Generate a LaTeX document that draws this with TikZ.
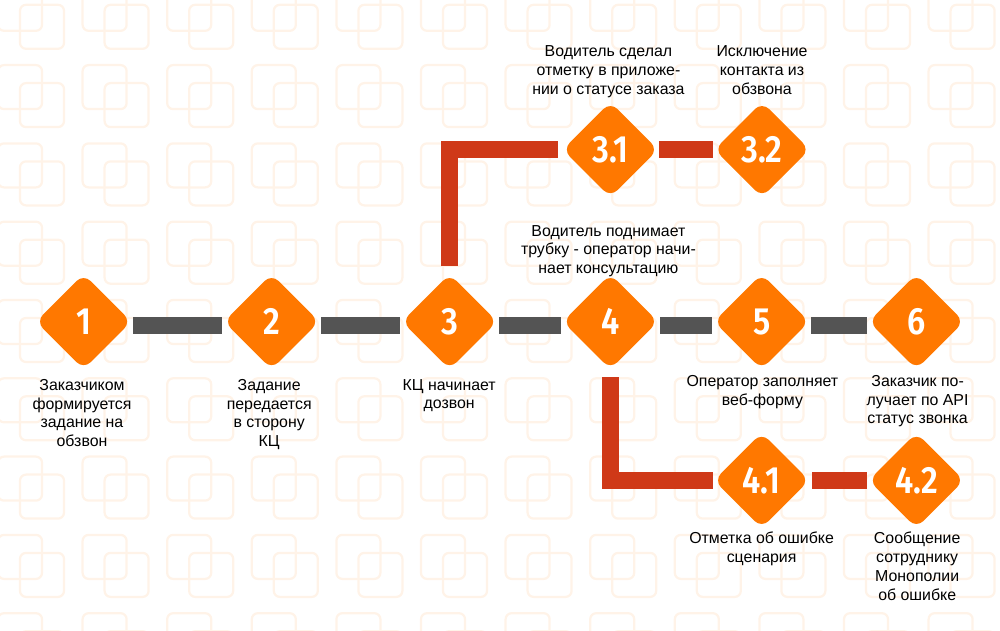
\documentclass[tikz,border=0pt]{standalone}
\usepackage{fontspec}
\usepackage{tikz}
\usetikzlibrary{shapes.geometric}
\setmainfont{Liberation Sans}
\newfontfamily\numfont[FakeStretch=0.86]{Fira Sans SemiBold}
\definecolor{stepamber}{RGB}{255,120,0}
\definecolor{trunkgray}{RGB}{84,84,84}
\definecolor{branchred}{RGB}{207,57,24}
\definecolor{tilepeach}{RGB}{255,243,232}
\newcommand{\stepfont}{\numfont\fontsize{27}{27}\selectfont}
\newcommand{\capfont}{\fontsize{11.3}{13.3}\selectfont}

\begin{document}
\begin{tikzpicture}[x=1cm,y=1cm,
  stage/.style={diamond,fill=stepamber,text=white,minimum width=2.38cm,
    minimum height=2.38cm,inner sep=0pt,outer sep=0pt,rounded corners=7pt,
    font=\stepfont},
  caption/.style={anchor=north,align=center,inner sep=0pt,font=\capfont},
  trunk/.style={trunkgray,line width=0.42cm,shorten <=0.05cm,shorten >=0.05cm},
  branch/.style={branchred,line width=0.42cm},
  tile/.style={tilepeach,line width=1.6pt,rounded corners=0.15cm}]
  \useasboundingbox (0,0) rectangle (25,15.75);

  % Background: pairs of overlapping rounded squares, period 2.115 x 1.9575cm.
  \begin{scope}
    \clip (0,0) rectangle (25,15.75);
    \foreach \k in {0,...,11}
      \foreach \j in {0,...,8}{
        \draw[tile] ({-0.05+2.115*\k},{16.08-1.9575*\j}) rectangle ++(1.1,-1.1);
        \draw[tile] ({0.5+2.115*\k},{15.63-1.9575*\j}) rectangle ++(1.1,-1.1);
      }
  \end{scope}

  % Main row of steps.
  \node[stage] (n1) at (2.09,7.71) {1};
  \node[stage] (n2) at (6.79,7.71) {2};
  \node[stage] (n3) at (11.24,7.71) {3};
  \node[stage] (n4) at (15.26,7.71) {4};
  \node[stage] (n5) at (19.04,7.71) {5};
  \node[stage] (n6) at (22.91,7.71) {6};

  % Upper and lower branches.
  \node[stage] (n31) at (15.26,12.01) {3.1};
  \node[stage] (n32) at (19.05,12.01) {3.2};
  \node[stage] (n41) at (19.04,3.74) {4.1};
  \node[stage] (n42) at (22.91,3.74) {4.2};

  % Gray trunk bars sit 0.1cm below the diamond centres.
  \foreach \a/\b in {n1/n2,n2/n3,n3/n4,n4/n5,n5/n6}
    \draw[trunk] ([yshift=-0.1cm]\a.east) -- ([yshift=-0.1cm]\b.west);

  \draw[branch,shorten <=0.2cm,shorten >=0.13cm] (n3.north) |- (n31.west);
  \draw[branch,shorten <=0.02cm,shorten >=0.04cm] (n31.east) -- (n32.west);
  \draw[branch,shorten <=0.2cm,shorten >=0.03cm] (n4.south) |- (n41.west);
  \draw[branch,shorten <=0.07cm,shorten >=0.04cm] (n41.east) -- (n42.west);

  % Captions.
  \node[caption] (t1) at (2.05,6.275) {Заказчиком\\формируется\\задание на\\обзвон};
  \node[caption] (t2) at (6.73,6.275) {Задание\\передается\\в сторону\\КЦ};
  \node[caption] (t3) at (11.23,6.275) {КЦ начинает\\дозвон};
  \node[caption] (t4) at (15.21,10.125)
    {Водитель поднимает\\трубку - оператор начи-\\нает консультацию};
  \node[caption] (t31) at (15.21,14.61)
    {Водитель сделал\\отметку в приложе-\\нии о статусе заказа};
  \node[caption] (t32) at (19.05,14.61) {Исключение\\контакта из\\обзвона};
  \node[caption] (t5) at (19.06,6.375) {Оператор заполняет\\веб-форму};
  \node[caption] (t6) at (22.94,6.375) {Заказчик по-\\лучает по API\\статус звонка};
  \node[caption] (t41) at (19.04,2.45) {Отметка об ошибке\\сценария};
  \node[caption] (t42) at (22.93,2.45)
    {Сообщение\\сотруднику\\Монополии\\об ошибке};
\end{tikzpicture}
\end{document}
